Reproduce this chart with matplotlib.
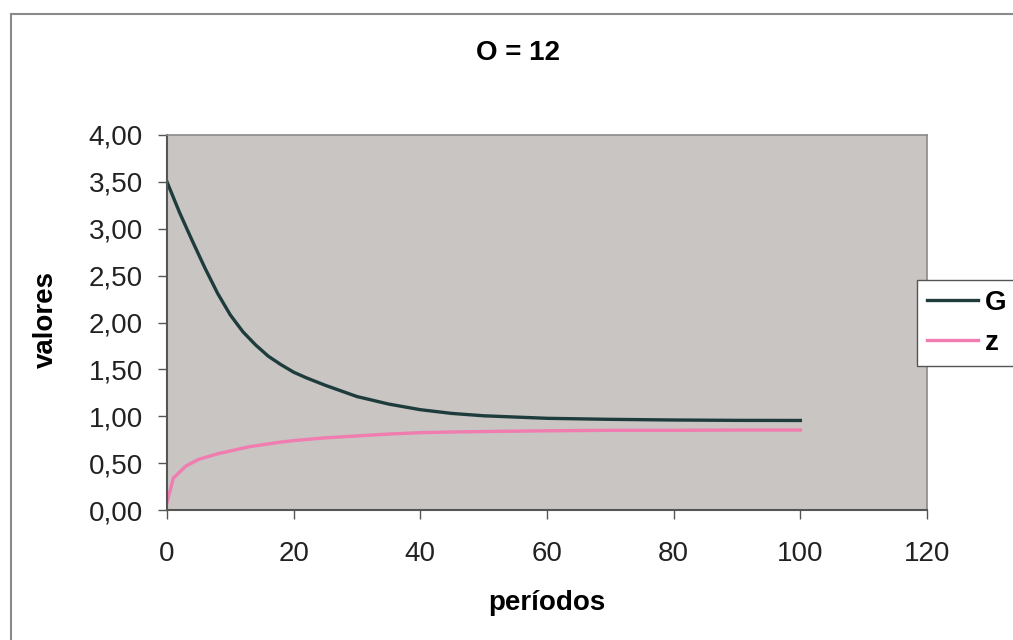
import matplotlib
matplotlib.use("Agg")
import matplotlib.pyplot as plt
from matplotlib.patches import Rectangle

# values
periodos_G = [0, 2, 4, 6, 8, 10, 12, 14, 16, 18, 20, 22, 25, 30, 35, 40, 45, 50, 60, 70, 80, 90, 100]
G = [3.50, 3.17, 2.87, 2.58, 2.31, 2.08, 1.90, 1.76, 1.64, 1.55, 1.47, 1.41, 1.33, 1.21,
     1.13, 1.07, 1.03, 1.005, 0.978, 0.967, 0.96, 0.956, 0.955]
periodos_z = [0, 1, 3, 5, 8, 13, 18, 20, 25, 30, 35, 40, 45, 50, 60, 70, 80, 90, 100]
z = [0.08, 0.34, 0.47, 0.54, 0.60, 0.675, 0.725, 0.74, 0.77, 0.79, 0.81, 0.825, 0.832,
     0.837, 0.845, 0.85, 0.85, 0.853, 0.853]
xticks = [0, 20, 40, 60, 80, 100, 120]
yticks = [0, 0.5, 1.0, 1.5, 2.0, 2.5, 3.0, 3.5, 4.0]

plt.rcParams["font.family"] = ["Liberation Sans", "DejaVu Sans"]

fig = plt.figure(figsize=(10.13, 6.4), dpi=100)
W, H = 1013, 640
# chart border (runs off the right and bottom edges)
fig.patches.append(Rectangle((11 / W, -0.1), 1.2, 1 - 14 / H + 0.1, transform=fig.transFigure,
                             fill=False, ec="#8a8a8a", lw=1.5))

ax = fig.add_axes([167 / W, 1 - 510 / H, (927 - 167) / W, (510 - 135) / H])
ax.set_facecolor("#c8c5c3")
ax.plot(periodos_G, G, color="#1f3c3c", lw=2.4, label="G")
ax.plot(periodos_z, z, color="#f07cb0", lw=2.4, label="z")

ax.set_xlim(0, 120)
ax.set_ylim(0, 4)
ax.set_xticks(xticks)
ax.set_yticks(yticks)
ax.set_yticklabels([f"{v:.2f}".replace(".", ",") for v in yticks])
ax.tick_params(labelsize=20, length=6.5, width=1, color="#555555", labelcolor="#222222",
               direction="out")
ax.tick_params(axis="y", pad=11)
ax.tick_params(axis="x", pad=16)
for s in ["left", "bottom"]:
    ax.spines[s].set_color("#555555")
    ax.spines[s].set_linewidth(1.5)
for s in ["top", "right"]:
    ax.spines[s].set_color("#8a8a8a")
    ax.spines[s].set_linewidth(1.2)

fig.text(518 / W, 1 - 53 / H, "O = 12", ha="center", va="center", fontsize=20, fontweight="bold")
fig.text(547 / W, 1 - 603 / H, "períodos", ha="center", va="center", fontsize=20, fontweight="bold")
fig.text(46 / W, 1 - 320 / H, "valores", ha="center", va="center", rotation=90,
         fontsize=20, fontweight="bold")

leg = fig.legend(loc="center left", bbox_to_anchor=(917 / W, 1 - 323 / H), frameon=True,
                 fancybox=False, edgecolor="#555555", facecolor="white", framealpha=1,
                 prop={"size": 20, "weight": "bold"}, handlelength=1.85, handletextpad=0.25,
                 labelspacing=0.5, borderpad=0.35, borderaxespad=0)
leg.get_frame().set_linewidth(1.0)

fig.savefig("out.png", dpi=100)
